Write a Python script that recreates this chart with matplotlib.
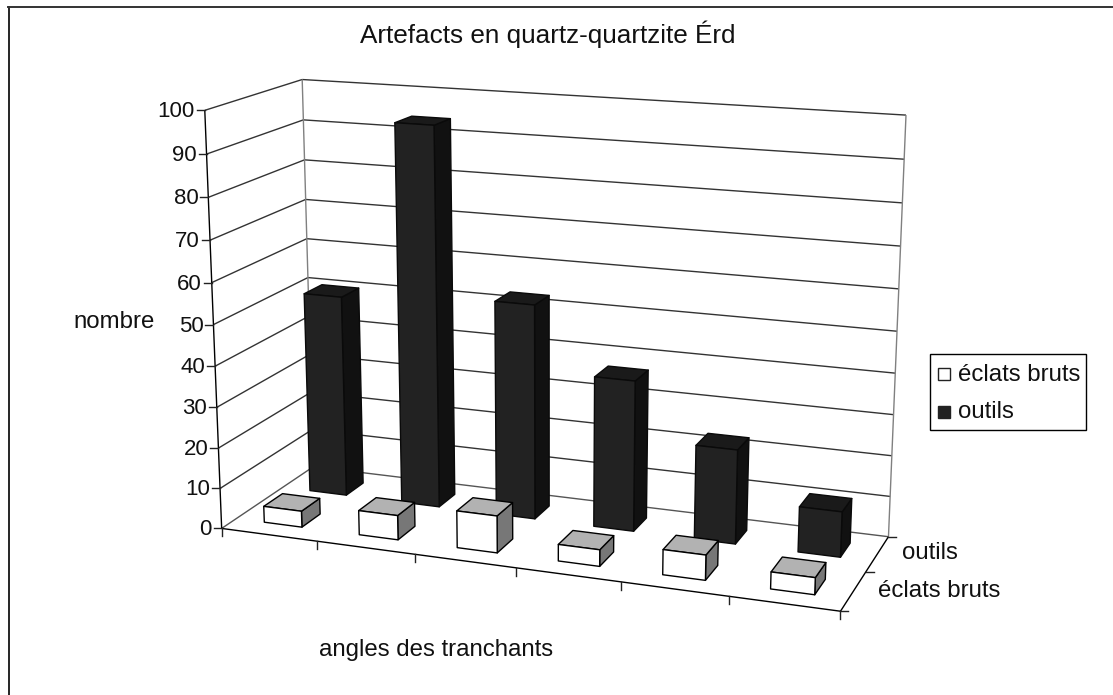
import numpy as np
import matplotlib
matplotlib.use('Agg')
import matplotlib.pyplot as plt
from matplotlib.patches import Polygon, Rectangle

plt.rcParams['font.family'] = ['Liberation Sans', 'DejaVu Sans']

title = 'Artefacts en quartz-quartzite Érd'
y_label = 'nombre'
x_label = 'angles des tranchants'
series_names = ['éclats bruts', 'outils']
y_ticks = [0, 10, 20, 30, 40, 50, 60, 70, 80, 90, 100]
eclats_bruts = [4, 6, 9, 4, 6, 4]
outils = [50.5, 94, 53, 37, 23, 11]

n_cat = len(outils)
n_rows = len(series_names)
y_max = y_ticks[-1]

# where the corners of the box sit in the picture: (category, row, value) -> pixel
corners = [
    ((0, 0, 0), (221, 528)),
    ((0, 0, y_max), (205, 111)),
    ((0, n_rows, y_max), (302, 79)),
    ((0, n_rows, 0), (314, 467)),
    ((n_cat, n_rows, y_max), (906, 115)),
    ((n_cat, n_rows, 0), (888, 537)),
    ((n_cat, 0, 0), (841, 611)),
]


def fit_camera(pairs):
    A = []
    b = []
    for (X, Y, Z), (u, v) in pairs:
        A.append([X, Y, Z, 1, 0, 0, 0, 0, -u * X, -u * Y, -u * Z])
        A.append([0, 0, 0, 0, X, Y, Z, 1, -v * X, -v * Y, -v * Z])
        b += [u, v]
    p = np.linalg.lstsq(np.array(A, float), np.array(b, float), rcond=None)[0]
    return np.append(p, 1).reshape(3, 4)


cam = fit_camera(corners)


def proj(x, y, z):
    u, v, w = cam @ np.array([x, y, z, 1.0])
    return u / w, v / w


fig = plt.figure(figsize=(11.13, 6.95), dpi=100)
ax = fig.add_axes([0, 0, 1, 1])
ax.set_xlim(0, 1113)
ax.set_ylim(695, 0)
ax.axis('off')

# outer frame, only the top and left edges show in the picture
ax.plot([8.5, 8.5], [695, 7], color='black', lw=1.2)
ax.plot([8, 1113], [7, 7], color='#333333', lw=1.4)


def seg(a, b, color='#333333', lw=1.0, zorder=2):
    p, q = proj(*a), proj(*b)
    ax.plot([p[0], q[0]], [p[1], q[1]], color=color, lw=lw, zorder=zorder, solid_capstyle='butt')


# walls and gridlines
for v in y_ticks[1:]:
    seg((0, 0, v), (0, n_rows, v))
    seg((0, n_rows, v), (n_cat, n_rows, v))
seg((0, 0, 0), (0, n_rows, 0), color='#555555')
seg((0, n_rows, 0), (n_cat, n_rows, 0), color='#555555')
seg((0, n_rows, 0), (0, n_rows, y_max), color='#808080')
seg((n_cat, n_rows, 0), (n_cat, n_rows, y_max), color='#808080')

# axes lines
seg((0, 0, 0), (0, 0, y_max), color='black', zorder=6)
seg((0, 0, 0), (n_cat, 0, 0), color='black', zorder=6)
seg((n_cat, 0, 0), (n_cat, n_rows, 0), color='black', zorder=6)


def tick(x, y, z, dx, dy):
    u, v = proj(x, y, z)
    ax.plot([u, u + dx], [v, v + dy], color='#222222', lw=1.0, zorder=6)
    return u, v


for v in y_ticks:
    u, w = tick(0, 0, v, -8, 0)
    ax.text(u - 10, w + 1.5, str(v), ha='right', va='center', fontsize=16, color='#111111')
for i in range(n_cat + 1):
    tick(i, 0, 0, 0, 8)
for r in range(n_rows + 1):
    tick(n_cat, r, 0, 8, 0)


def draw_bar(cat, row, value, front, top, side):
    x0, x1 = cat + 0.3, cat + 0.7
    y0, y1 = row + 0.3, row + 0.7
    f = [proj(x0, y0, 0), proj(x1, y0, 0), proj(x1, y0, value), proj(x0, y0, value)]
    s = [proj(x1, y0, 0), proj(x1, y1, 0), proj(x1, y1, value), proj(x1, y0, value)]
    t = [proj(x0, y0, value), proj(x1, y0, value), proj(x1, y1, value), proj(x0, y1, value)]
    ec = 'black' if front == 'white' else '#0a0a0a'
    for pts, fc in ((s, side), (t, top), (f, front)):
        ax.add_patch(Polygon(pts, closed=True, fc=fc, ec=ec, lw=1.0, zorder=4, joinstyle='round'))


for i in range(n_cat):
    draw_bar(i, 1, outils[i], '#222222', '#1a1a1a', '#111111')
for i in range(n_cat):
    draw_bar(i, 0, eclats_bruts[i], 'white', '#b2b2b2', '#777777')

# texts
ax.text(548, 34, title, ha='center', va='center', fontsize=18.8, color='#111111')
ax.text(114, 322, y_label, ha='center', va='center', fontsize=17.3, color='#111111')
ax.text(436, 650, x_label, ha='center', va='center', fontsize=17.3, color='#111111')
ax.text(902, 553, series_names[1], ha='left', va='center', fontsize=17.3, color='#111111')
ax.text(878, 591, series_names[0], ha='left', va='center', fontsize=17.3, color='#111111')

# legend
ax.add_patch(Rectangle((930, 354), 156, 76, fc='white', ec='black', lw=1, zorder=5))
ax.add_patch(Rectangle((938, 368), 12, 12, fc='white', ec='#222222', lw=1, zorder=6))
ax.add_patch(Rectangle((938, 406), 12, 12, fc='#222222', ec='#222222', lw=1, zorder=6))
ax.text(958, 375, series_names[0], ha='left', va='center', fontsize=17.3, color='#111111', zorder=6)
ax.text(958, 412, series_names[1], ha='left', va='center', fontsize=17.3, color='#111111', zorder=6)

fig.savefig('out.png', dpi=100)
